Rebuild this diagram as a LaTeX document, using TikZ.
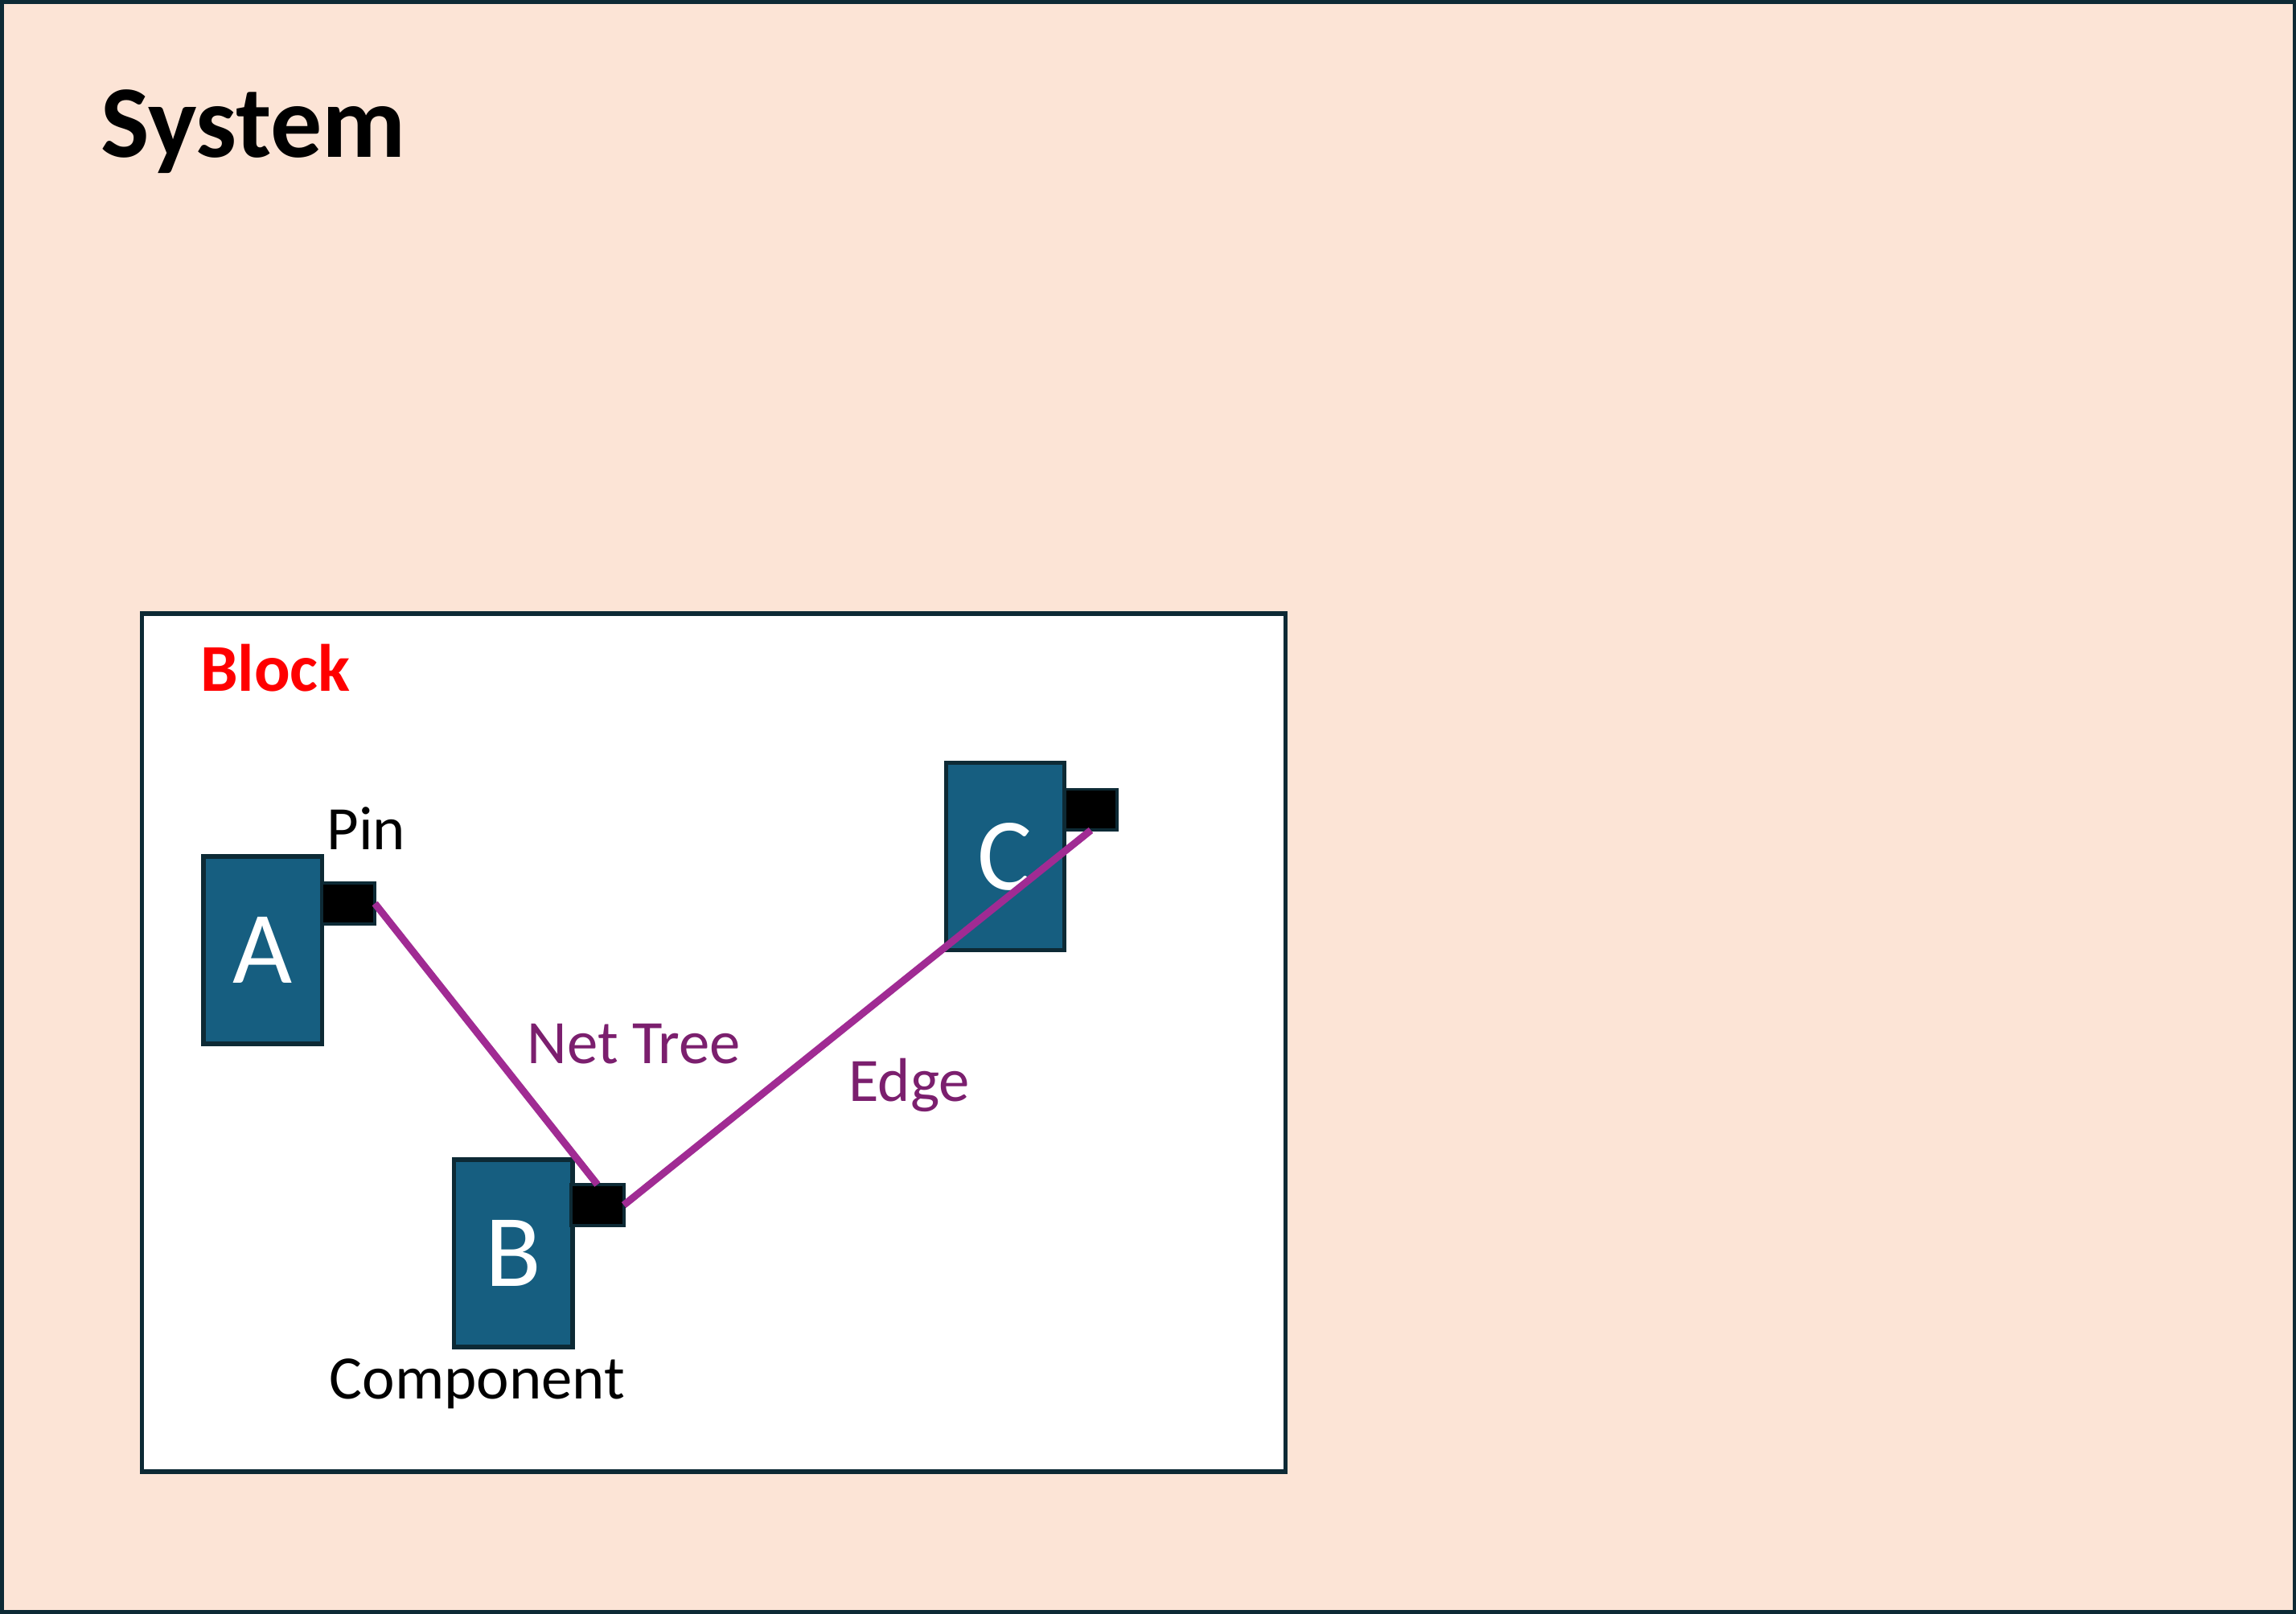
\documentclass[tikz,border=0pt]{standalone}
\usepackage{fontspec}
\setmainfont{Carlito}
\begin{document}
\begin{tikzpicture}[x=0.02cm,y=-0.02cm,
  frame/.style={draw=edge,line width=1.7pt},
  comp/.style={frame,fill=compfill,anchor=north west,minimum width=1.62cm,minimum height=2.56cm,inner sep=0,outer sep=0,text=white,font=\fontsize{40}{40}\selectfont},
  pin/.style={draw=edge,line width=1.2pt,fill=black,anchor=north west,minimum width=0.72cm,minimum height=0.56cm,inner sep=0,outer sep=0},
  net/.style={draw=netc,line width=2.8pt},
  lbl/.style={font=\fontsize{24}{24}\selectfont}]
\definecolor{edge}{HTML}{0D2A35}
\definecolor{compfill}{HTML}{165E80}
\definecolor{netc}{HTML}{A02B93}
\definecolor{netl}{HTML}{7B1F6E}
\definecolor{sysbg}{HTML}{FCE4D6}
\useasboundingbox (0,0) rectangle (1568,1102);
\draw[frame,fill=sysbg] (1,1) rectangle (1567,1101);
\node[font=\bfseries\fontsize{40}{40}\selectfont] (sys) at (173,90) {System};
\draw[frame,fill=white] (97,419) rectangle (878,1005);
\node[font=\bfseries\fontsize{26}{26}\selectfont,text=red] (blk) at (188,456) {Block};
\node[comp] (A) at (139,585) {A};
\node[comp] (B) at (310,792) {B};
\node[comp] (C) at (646,521) {C};
\node[pin] (pa) at (220,603) {};
\node[pin] (pb) at (390,809) {};
\node[pin] (pc) at (727,539) {};
\draw[net] (pa.east) -- (pb.north);
\draw[net] (pb.east) -- (pc.south);
\node[lbl] (lpin) at (250,566) {Pin};
\node[lbl,text=netl] (lnet) at (433,713) {Net Tree};
\node[lbl,text=netl] (ledge) at (621,741) {Edge};
\node[lbl] (lcomp) at (326,945) {Component};
\end{tikzpicture}
\end{document}
